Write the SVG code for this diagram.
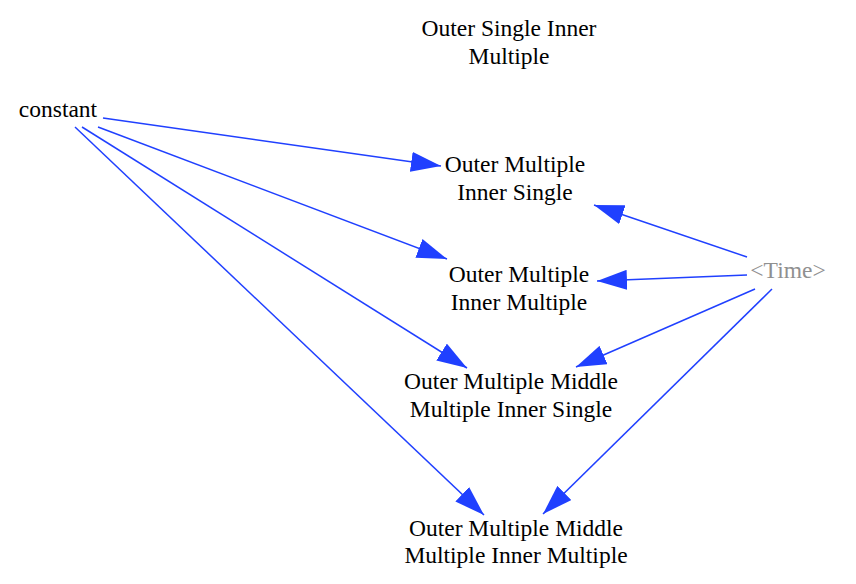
<svg xmlns="http://www.w3.org/2000/svg" width="856" height="584" viewBox="0 0 856 584">
<style>
text{font-family:"Liberation Serif",serif;font-size:23.5px;fill:#000;text-anchor:middle}
.shadow{fill:#909090}
.c{stroke:#2040ff;stroke-width:1.5;fill:none;marker-end:url(#ah)}
</style>
<defs>
<marker id="ah" markerUnits="userSpaceOnUse" markerWidth="32" markerHeight="20" refX="30" refY="10" orient="auto">
<path d="M0,0 L30,10 L0,20 Z" fill="#2040ff"/>
</marker>
</defs>
<rect width="856" height="584" fill="#fff"/>
<g id="connectors">
<path class="c" d="M103,118 L441,166"/>
<path class="c" d="M98,127 L447,259"/>
<path class="c" d="M82,127 L467,368"/>
<path class="c" d="M75,127 L484,515"/>
<path class="c" d="M747,257 L594,205"/>
<path class="c" d="M747,275 L597,281"/>
<path class="c" d="M755,289 L576,367"/>
<path class="c" d="M772,289 L543,514"/>
</g>
<g id="osim"><text x="509" y="36">Outer Single Inner</text><text x="509" y="64">Multiple</text></g>
<g id="constant"><text x="58" y="117">constant</text></g>
<g id="omis"><text x="515" y="172">Outer Multiple</text><text x="515" y="200">Inner Single</text></g>
<g id="omim"><text x="519" y="282">Outer Multiple</text><text x="519" y="310">Inner Multiple</text></g>
<g id="time"><text class="shadow" x="788" y="278">&lt;Time&gt;</text></g>
<g id="ommmis"><text x="511" y="389">Outer Multiple Middle</text><text x="511" y="417">Multiple Inner Single</text></g>
<g id="ommmim"><text x="516" y="536">Outer Multiple Middle</text><text x="516" y="563">Multiple Inner Multiple</text></g>
</svg>
